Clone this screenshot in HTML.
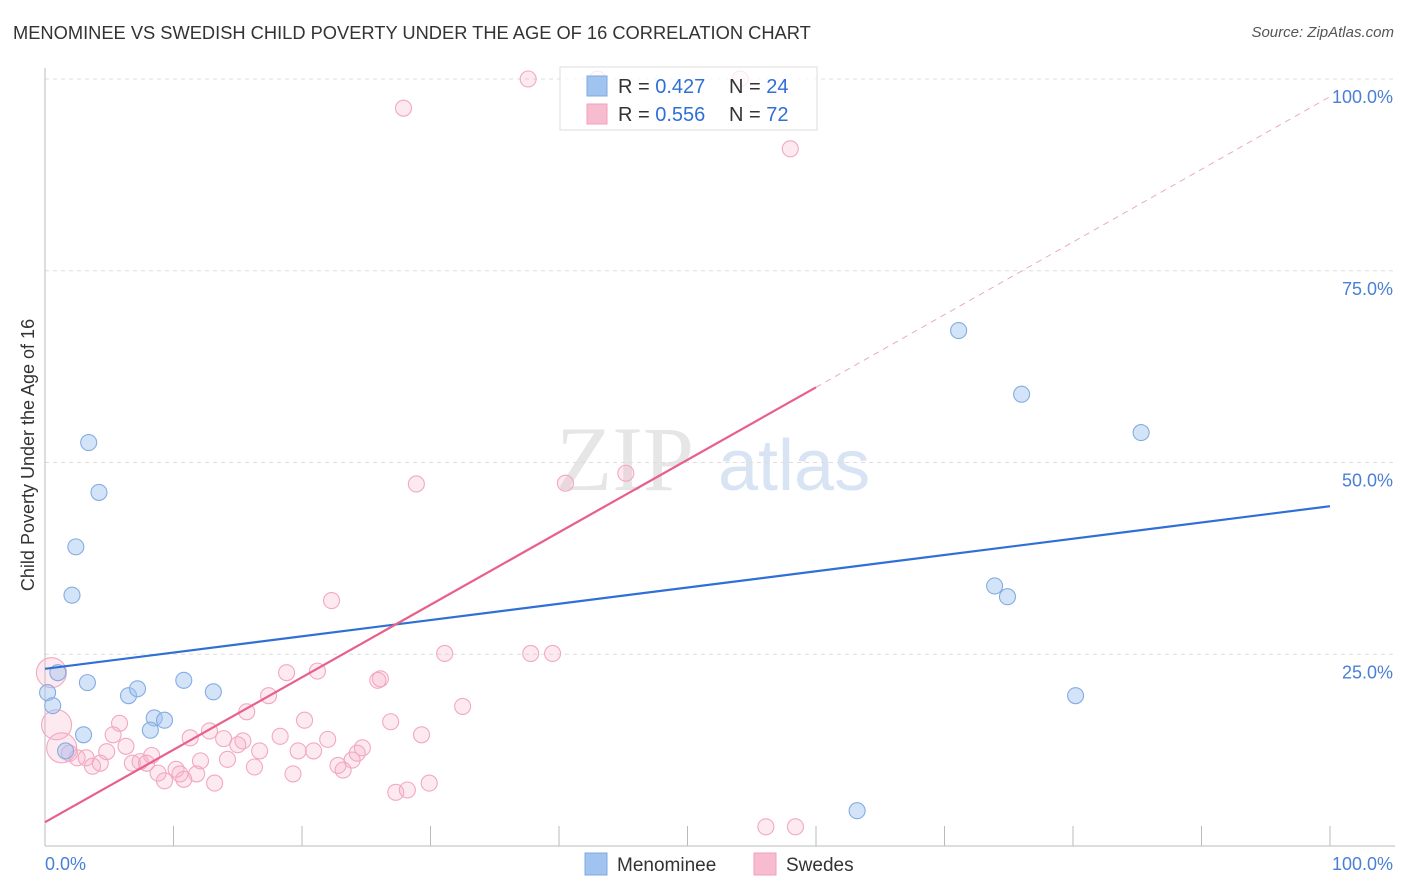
<!DOCTYPE html>
<html><head><meta charset="utf-8">
<style>
body{margin:0;background:#fff;font-family:"Liberation Sans",sans-serif;}
#wrap{position:relative;width:1406px;height:892px;overflow:hidden;}
.t{position:absolute;white-space:nowrap;}
</style></head>
<body>
<div id="wrap">
<div class="t" style="left:13px;top:22px;font-size:18.3px;color:#333;">MENOMINEE VS SWEDISH CHILD POVERTY UNDER THE AGE OF 16 CORRELATION CHART</div>
<div class="t" style="right:12px;top:24px;font-size:15px;color:#555;font-style:italic;">Source: ZipAtlas.com</div>
<svg id="svg" width="1406" height="892" style="position:absolute;left:0;top:0"></svg>
</div>
<script>
const xTicks=[0,100];
const yTicks=[25,50,75,100];
const blueX=[3.4,4.2,2.4,2.1,1.0,3.3,0.2,0.6,3.0,1.6,6.5,7.2,8.5,9.3,8.2,10.8,13.1,71.1,76.0,85.3,73.9,74.9,80.2,63.2];
const blueY=[52.6,46.1,39.0,32.7,22.6,21.3,20.0,18.3,14.5,12.4,19.6,20.5,16.7,16.4,15.1,21.6,20.1,67.2,58.9,53.9,33.9,32.5,19.6,4.6];
const pinkX=[37.6,54.1,43.0,27.9,58.0,28.9,40.5,45.2,22.3,31.1,37.8,39.5,0.5,18.8,21.2,26.1,25.9,17.4,32.5,0.9,15.7,5.8,20.2,26.9,29.3,18.3,11.3,12.8,13.9,5.3,15.4,15.0,6.3,1.3,1.9,2.5,3.2,4.3,3.7,4.8,8.3,16.7,19.7,20.9,24.7,24.3,22.0,12.1,14.2,6.8,7.4,7.9,10.2,10.5,11.8,8.8,9.3,10.8,16.3,19.3,22.8,23.2,23.9,13.2,29.9,27.3,28.2,56.1,58.4];
const pinkY=[100,100,100,96.2,90.9,47.2,47.3,48.6,32.0,25.1,25.1,25.1,22.6,22.6,22.8,21.8,21.6,19.6,18.2,15.8,17.5,16.0,16.4,16.2,14.5,14.3,14.1,15.0,14.0,14.5,13.7,13.2,13.0,12.8,12.1,11.5,11.5,10.8,10.4,12.3,11.8,12.4,12.4,12.4,12.8,12.1,13.9,11.1,11.3,10.8,11.0,10.8,10.0,9.4,9.4,9.5,8.5,8.7,10.3,9.4,10.5,9.9,11.2,8.2,8.2,7.0,7.3,2.5,2.5];
const sizeBig=[12,19,33];
const x0=45,x1=1330,y0=846,y1=79;
const sx=v=>x0+(x1-x0)*v/100, sy=v=>y0-(y0-y1)*v/100;
const svg=document.getElementById('svg');
const NS='http://www.w3.org/2000/svg';
function mk(tag,a,name,par){const e=document.createElementNS(NS,tag);for(const k in a)e.setAttribute(k,a[k]);


(par||svg).appendChild(e);return e;}
const w=mk('text',{x:556,y:490,'font-size':92,fill:'#e6e6e6','font-family':'Liberation Serif, serif'},'watermark-zip');w.textContent='ZIP';
const w2=mk('text',{x:718,y:490,'font-size':72,fill:'#d8e4f4','font-family':'Liberation Sans, sans-serif'},'watermark-atlas');w2.textContent='atlas';
yTicks.forEach(v=>{mk('line',{x1:x0,x2:1395,y1:sy(v),y2:sy(v),stroke:'#ddd','stroke-dasharray':'4,4'},'gridline-'+v);
const t=mk('text',{x:1393,y:sy(v)+24,'text-anchor':'end','font-size':18,fill:'#4a7fd6'},'y-tick-label');t.textContent=v.toFixed(1)+'%';});
mk('line',{x1:x0,x2:x0,y1:68,y2:y0,stroke:'#bbb'},'y-axis');
mk('line',{x1:x0,x2:1395,y1:y0,y2:y0,stroke:'#bbb'},'x-axis');
for(let i=1;i<=10;i++){const x=x0+i*128.5;mk('line',{x1:x,x2:x,y1:826,y2:y0,stroke:'#bbb'},'x-tick');}
xTicks.forEach(v=>{const t=mk('text',{x:v==0?45:1393,y:870,'text-anchor':v==0?'start':'end','font-size':18,fill:'#4a7fd6'},'x-tick-label');t.textContent=v.toFixed(1)+'%';});
const yl=mk('text',{x:0,y:0,transform:'translate(34,455) rotate(-90)','text-anchor':'middle','font-size':18,fill:'#333'},'y-axis-title');yl.textContent='Child Poverty Under the Age of 16';
pinkX.forEach((v,i)=>{const r=sizeBig.includes(i)?15:8;mk('circle',{cx:sx(v),cy:sy(pinkY[i]),r:r,fill:'rgba(247,170,195,0.25)',stroke:'#f2a8c0','stroke-width':1.1},'swedes-point');});
blueX.forEach((v,i)=>{mk('circle',{cx:sx(v),cy:sy(blueY[i]),r:8,fill:'rgba(160,195,240,0.45)',stroke:'#85acE2','stroke-width':1.1},'menominee-point');});
mk('line',{x1:sx(0),y1:sy(23.1),x2:sx(100),y2:sy(44.3),stroke:'#2f6fd6','stroke-width':2.2},'menominee-trendline');
mk('line',{x1:sx(0),y1:sy(3.1),x2:sx(60),y2:sy(59.8),stroke:'#e8608a','stroke-width':2.2},'swedes-trendline');
mk('line',{x1:sx(60),y1:sy(59.8),x2:sx(100),y2:sy(97.7),stroke:'#ecaabf','stroke-width':1,'stroke-dasharray':'6,5'},'swedes-trendline-extension');
mk('rect',{x:560,y:67,width:257,height:63,fill:'rgba(255,255,255,0.75)',stroke:'#ddd'},'legend-box');
[['#a0c3f0','#80a8e0','0.427','24',86],['#f7bccf','#f2a0bb','0.556','72',114]].forEach((d,i)=>{
mk('rect',{x:587,y:d[4]-10,width:20,height:20,fill:d[0],stroke:d[1]},'legend-swatch');
const t=mk('text',{x:618,y:d[4]+7,'font-size':20,fill:'#333'},'legend-entry');
t.innerHTML='R = <tspan fill="#2f6fd6">'+d[2]+'</tspan><tspan x="729">N = </tspan><tspan fill="#2f6fd6">'+d[3]+'</tspan>';});
[['#a0c3f0','#80a8e0','Menominee',585],['#f7bccf','#f2a0bb','Swedes',754]].forEach(d=>{
mk('rect',{x:d[3],y:853,width:22,height:22,fill:d[0],stroke:d[1]},'bottom-legend-swatch');
const t=mk('text',{x:d[3]+32,y:871,'font-size':19,fill:'#333'},'bottom-legend-label');t.textContent=d[2];});
</script>
</body></html>
